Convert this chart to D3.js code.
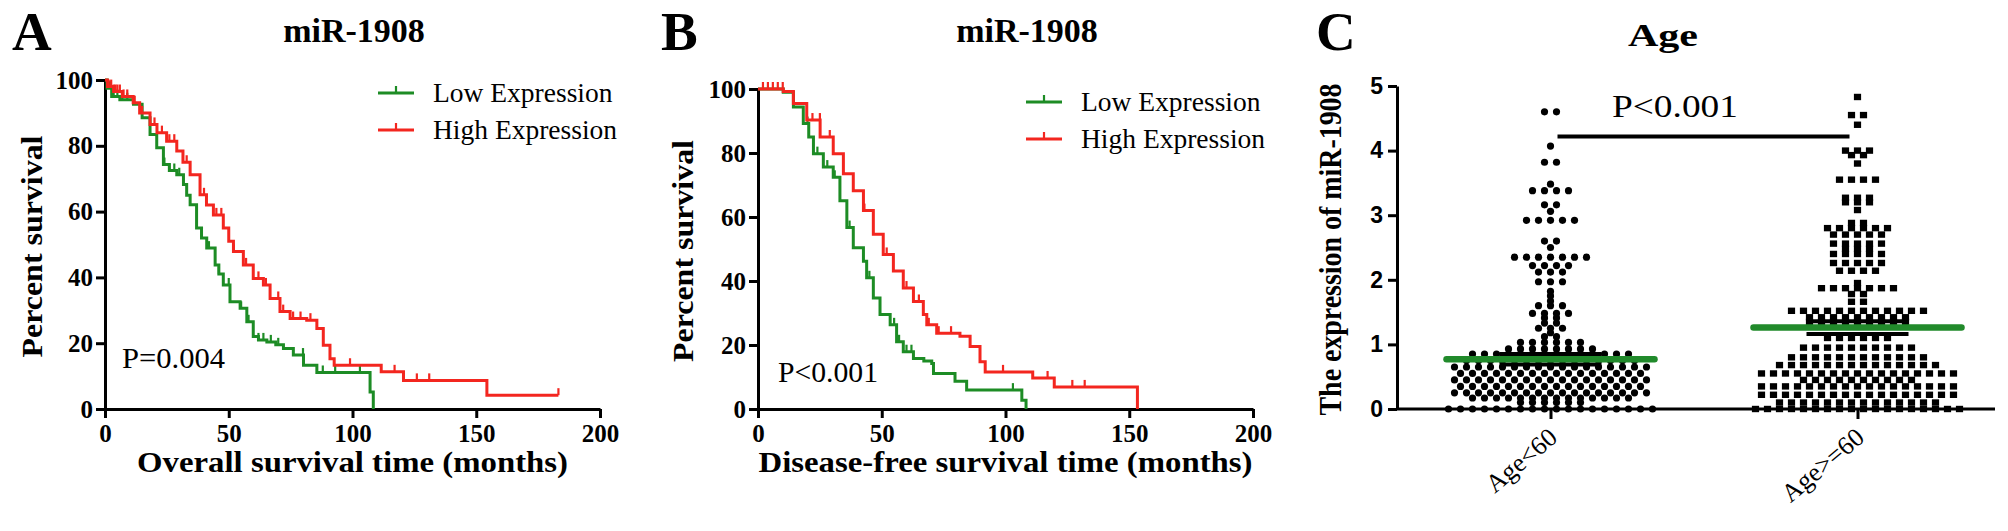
<!DOCTYPE html>
<html>
<head>
<meta charset="utf-8">
<script src="https://cdn.jsdelivr.net/npm/d3@7"></script>
<style>
  body { margin: 0; background: #fff; }
  svg { display: block; }
</style>
</head>
<body>
<div id="chart"></div>
<script>
const width = 2008;
const height = 531;

const serif = "'Liberation Serif', 'Times New Roman', Times, serif";
const sans = "'Liberation Sans', Arial, sans-serif";
const green = "#1d8c25";
const red = "#f3261f";

// ---- data ----
const survivalTicks = [0, 50, 100, 150, 200];
const percentTicks = [0, 20, 40, 60, 80, 100];
const expressionTicks = [0, 1, 2, 3, 4, 5];
const seriesNames = ["Low Expression", "High Expression"];
const ageGroups = ["Age<60", "Age>=60"];

// overall survival, [months, percent]
const osLow = [[0, 100], [0.8, 97.5], [2.7, 95], [6, 94], [11.5, 92.6], [15, 88.5], [18.2, 83.4], [20.9, 79.4],
  [23.6, 74.3], [26, 72.5], [29, 71.2], [31.7, 68.2], [33, 65], [34.4, 62.1], [37, 55], [39, 52], [41.1, 48.9],
  [44.5, 43.8], [46, 41], [47.8, 37.7], [50.5, 32.6], [54.6, 30.6], [57.3, 26.5], [59.9, 22], [62, 21],
  [65.4, 20.4], [69, 19.5], [72.1, 18.4], [76.1, 16.4], [80.2, 13.3], [85.6, 11.1], [107.1, 5.2], [108.4, 0]];
const osHigh = [[0, 100], [1, 98], [3.5, 96.5], [7, 95], [11.4, 93.1], [14, 90], [18.2, 86.5], [21, 84],
  [24.9, 81.4], [29, 78.4], [31.5, 75], [34.4, 71.2], [38.4, 65.1], [41, 62], [43.8, 59], [47.8, 55], [50, 51],
  [51.9, 47.9], [55.9, 43.8], [59.9, 39.7], [64, 37.7], [66.7, 33.6], [70.7, 29.6], [74.8, 27.5], [81.5, 27],
  [85.6, 24.5], [88.2, 19.4], [90.9, 15.3], [92.6, 13.3], [111.6, 11.3], [120.6, 8.7], [154.3, 4.2], [183.2, 4.2]];
const osLowCensor = [1, 2, 3.5, 5, 7, 9, 24, 26, 28, 30, 42, 46, 50, 55, 58, 62, 64, 67, 70, 80, 88, 93, 103];
const osHighCensor = [1.5, 2.5, 3.5, 4.2, 5, 6, 7.5, 9, 12, 15, 20, 23, 26, 28, 33, 40, 45, 47, 52, 57, 62, 65,
  70, 72, 76, 79, 83, 99, 117, 126, 131, 183.2];

// disease-free survival, [months, percent]
const dfsLow = [[0, 100], [10.2, 99], [14.3, 94.4], [18.3, 89.2], [20.5, 85], [22.4, 79.8], [26.4, 75.6],
  [30.4, 72.4], [33.1, 65.1], [35.9, 56.7], [38.5, 50.4], [42.6, 46.2], [43.9, 41], [46.6, 34.7], [49.3, 29.5],
  [53.4, 26.3], [56, 21], [58.7, 17.9], [62.8, 15.8], [67, 15], [70.2, 14.2], [70.9, 11.1], [79.6, 8.7],
  [84.3, 5.9], [106.6, 2.7], [108.3, 0]];
const dfsHigh = [[0, 100], [10.2, 99.2], [14.3, 95.5], [19.7, 90.3], [25.1, 85], [30.4, 79.8], [34.5, 73.5],
  [38.5, 68.2], [42.6, 62], [46.6, 54.6], [50.6, 48.3], [54.7, 43.1], [58.7, 37.8], [62.8, 33.6], [66.8, 29.5],
  [68.2, 26.3], [72.2, 23.7], [81.6, 22.7], [85.7, 19.5], [89.7, 14.8], [91.8, 11.6], [111, 9.7], [119.7, 6.9],
  [153.3, 0]];
const dfsLowCensor = [20, 24, 28, 31, 37, 45, 55, 57, 60, 62, 103];
const dfsHighCensor = [2, 4, 6, 8, 10, 22, 25, 29, 43, 52, 60, 65, 69, 73, 78, 99, 117, 127, 132];

// miR-1908 expression per patient
const ageUnder60 = [
  4.6, 4.6, 4.07, 3.82, 3.82, 3.48, 3.38, 3.38, 3.38, 3.38, 3.16, 3.16, 3.06,
  2.92, 2.92, 2.92, 2.92, 2.92, 2.6, 2.6, 2.5,
  2.35, 2.35, 2.35, 2.35, 2.35, 2.35, 2.35, 2.22, 2.22, 2.22, 2.22, 2.12, 2.12, 2.12,
  1.97, 1.97, 1.97, 1.82, 1.75, 1.67, 1.6, 1.6, 1.6, 1.48, 1.48, 1.48, 1.48, 1.41, 1.41,
  1.33, 1.33, 1.25, 1.25, 1.25, 1.18, 1.12, 1.12, 1.03, 1.03, 1.03, 1.03, 1.03, 1.03,
  0.93, 0.93, 0.93, 0.93, 0.93, 0.93, 0.93, 0.93,
  0.85, 0.85, 0.85, 0.85, 0.85, 0.85, 0.85, 0.85, 0.85, 0.85, 0.85, 0.85, 0.85, 0.85,
  0.75, 0.75, 0.75, 0.75, 0.75, 0.75, 0.75, 0.75, 0.75, 0.75, 0.75, 0.75, 0.75, 0.75, 0.75,
  0.65, 0.65, 0.65, 0.65, 0.65, 0.65, 0.65, 0.65, 0.65, 0.65, 0.65, 0.65, 0.65, 0.65, 0.65, 0.65, 0.65,
  0.55, 0.55, 0.55, 0.55, 0.55, 0.55, 0.55, 0.55, 0.55, 0.55, 0.55, 0.55, 0.55, 0.55, 0.55, 0.55,
  0.45, 0.45, 0.45, 0.45, 0.45, 0.45, 0.45, 0.45, 0.45, 0.45, 0.45, 0.45, 0.45, 0.45, 0.45, 0.45, 0.45,
  0.35, 0.35, 0.35, 0.35, 0.35, 0.35, 0.35, 0.35, 0.35, 0.35, 0.35, 0.35, 0.35, 0.35, 0.35, 0.35,
  0.25, 0.25, 0.25, 0.25, 0.25, 0.25, 0.25, 0.25, 0.25, 0.25, 0.25, 0.25, 0.25, 0.25, 0.25, 0.25, 0.25,
  0.17, 0.17, 0.17, 0.17, 0.17, 0.17, 0.17, 0.17, 0.17, 0.17, 0.17, 0.17, 0.17, 0.17,
  0.1, 0.1, 0.1, 0.1, 0.1, 0.1,
  0, 0, 0, 0, 0, 0, 0, 0, 0, 0, 0, 0, 0, 0, 0, 0, 0, 0
];
const ageOver60 = [
  4.83, 4.55, 4.55, 4.4, 4.0, 4.0, 4.0, 3.93, 3.93, 3.8, 3.55, 3.55, 3.55, 3.55,
  3.27, 3.27, 3.27, 3.2, 3.2, 3.2, 3.08, 2.88, 2.88, 2.8, 2.8, 2.8, 2.8, 2.8, 2.8,
  2.7, 2.7, 2.7, 2.7, 2.7, 2.56, 2.56, 2.56, 2.56, 2.56, 2.48, 2.48, 2.48,
  2.4, 2.4, 2.4, 2.4, 2.4, 2.26, 2.26, 2.26, 2.26, 2.26, 2.14, 2.14, 2.14, 2.14, 1.95,
  1.87, 1.87, 1.87, 1.87, 1.87, 1.87, 1.87, 1.78, 1.78, 1.66, 1.66,
  1.52, 1.52, 1.52, 1.52, 1.52, 1.52, 1.52, 1.52, 1.52, 1.52, 1.52, 1.52,
  1.42, 1.42, 1.42, 1.42, 1.42, 1.42, 1.42, 1.42, 1.42,
  1.35, 1.35, 1.35, 1.35, 1.35, 1.35, 1.35, 1.35, 1.35,
  1.1, 1.1, 1.1, 1.1, 1.1, 1.1,
  0.95, 0.95, 0.95, 0.95, 0.95, 0.95, 0.95, 0.95, 0.95, 0.95,
  0.8, 0.8, 0.8, 0.8, 0.8, 0.8, 0.8, 0.8, 0.8, 0.8, 0.8, 0.8,
  0.68, 0.68, 0.68, 0.68, 0.68, 0.68, 0.68, 0.68, 0.68, 0.68, 0.68, 0.68, 0.68, 0.68,
  0.55, 0.55, 0.55, 0.55, 0.55, 0.55, 0.55, 0.55, 0.55, 0.55, 0.55, 0.55, 0.55, 0.55, 0.55, 0.55, 0.55,
  0.45, 0.45, 0.45, 0.45, 0.45, 0.45, 0.45, 0.45, 0.45, 0.45,
  0.35, 0.35, 0.35, 0.35, 0.35, 0.35, 0.35, 0.35, 0.35, 0.35, 0.35, 0.35, 0.35, 0.35, 0.35, 0.35, 0.35,
  0.22, 0.22, 0.22, 0.22, 0.22, 0.22, 0.22, 0.22, 0.22, 0.22, 0.22, 0.22, 0.22, 0.22, 0.22, 0.22, 0.22,
  0.1, 0.1, 0.1, 0.1, 0.1, 0.1, 0.1, 0.1, 0.1, 0.1, 0.1, 0.1, 0.1, 0.1,
  0, 0, 0, 0, 0, 0, 0, 0, 0, 0, 0, 0, 0, 0, 0, 0, 0, 0
];
const groupMeans = [0.77, 1.26];
const groupSem = [0.08, 0.1];
const sigLevel = 4.22;
// -------------------------------------

const svg = d3.select("#chart")
  .append("svg")
  .attr("width", width)
  .attr("height", height)
  .attr("viewBox", [0, 0, width, height]);

const styleAxis = (g, font, size) => {
  g.attr("font-family", null).attr("font-size", null);
  g.select(".domain").attr("stroke-width", 3).attr("stroke", "#000");
  g.selectAll(".tick line").attr("stroke-width", 3).attr("stroke", "#000");
  g.selectAll(".tick text")
    .attr("fill", "#000")
    .style("font-family", font)
    .style("font-size", size + "px")
    .style("font-weight", "bold");
};

const addText = (txt, x, y, opts = {}) => {
  const t = svg.append("text")
    .attr("x", x)
    .attr("y", y)
    .attr("text-anchor", opts.anchor || "start")
    .style("font-family", opts.font || serif)
    .style("font-size", (opts.size || 25) + "px")
    .style("font-weight", opts.bold ? "bold" : "normal")
    .attr("fill", "#000")
    .text(txt);
  if (opts.len) t.attr("textLength", opts.len).attr("lengthAdjust", "spacingAndGlyphs");
  if (opts.rotate) t.attr("transform", `rotate(${opts.rotate},${x},${y})`);
  return t;
};

// value of a step curve at time t
const stepAt = (data, t) => data[Math.max(0, d3.bisector(d => d[0]).right(data, t) - 1)][1];

const drawSurvival = (cfg) => {
  const x = d3.scaleLinear([0, 200], [cfg.left, cfg.right]);
  const y = d3.scaleLinear([0, 100], [cfg.bottom, cfg.top]);

  const line = d3.line()
    .x(d => x(d[0]))
    .y(d => y(d[1]))
    .curve(d3.curveStepAfter);

  svg.append("g")
    .attr("transform", `translate(0,${cfg.bottom})`)
    .call(d3.axisBottom(x).tickValues(survivalTicks).tickSize(9).tickSizeOuter(0).tickPadding(6))
    .call(g => styleAxis(g, serif, 25));

  svg.append("g")
    .attr("transform", `translate(${cfg.left},0)`)
    .call(d3.axisLeft(y).tickValues(percentTicks).tickSize(9).tickSizeOuter(0).tickPadding(3))
    .call(g => styleAxis(g, serif, 25));

  cfg.series.forEach(s => {
    svg.append("path")
      .datum(s.data)
      .attr("fill", "none")
      .attr("stroke", s.color)
      .attr("stroke-width", 3)
      .attr("d", line);

    svg.append("g")
      .selectAll("line")
      .data(s.censor)
      .join("line")
      .attr("x1", d => x(d))
      .attr("x2", d => x(d))
      .attr("y1", d => y(stepAt(s.data, d)))
      .attr("y2", d => y(stepAt(s.data, d)) - 7)
      .attr("stroke", s.color)
      .attr("stroke-width", 2.2);
  });

  // legend
  const legend = svg.append("g")
    .attr("transform", `translate(${cfg.legendX},${cfg.legendY})`);
  const item = legend.selectAll("g")
    .data(cfg.series)
    .join("g")
    .attr("transform", (d, i) => `translate(0,${i * 37})`);
  item.append("line")
    .attr("x1", 0).attr("x2", 36)
    .attr("stroke", d => d.color)
    .attr("stroke-width", 2.8);
  item.append("line")
    .attr("x1", 18).attr("x2", 18).attr("y1", 0).attr("y2", -7)
    .attr("stroke", d => d.color)
    .attr("stroke-width", 2.2);
  item.append("text")
    .attr("x", 55)
    .attr("y", 9)
    .style("font-family", serif)
    .style("font-size", "27.5px")
    .text(d => d.name);

  addText(cfg.letter, cfg.letterX, 50, { size: 55, bold: true });
  addText("miR-1908", cfg.titleX, 42, { size: 34, bold: true, anchor: "middle" });
  addText("Percent survival", cfg.yLabelX, (cfg.top + cfg.bottom) / 2 + 2,
    { size: 29, bold: true, anchor: "middle", rotate: -90, len: 222 });
  addText(cfg.xLabel, (cfg.left + cfg.right) / 2, 472,
    { size: 29, bold: true, anchor: "middle", len: cfg.xLabelLen });
  addText(cfg.pText, cfg.pX, cfg.pY, { size: 30, len: cfg.pLen });
};

drawSurvival({
  left: 105, right: 600, top: 80, bottom: 409,
  series: [
    { name: seriesNames[0], color: green, data: osLow, censor: osLowCensor },
    { name: seriesNames[1], color: red, data: osHigh, censor: osHighCensor }
  ],
  legendX: 378, legendY: 93,
  letter: "A", letterX: 12, titleX: 354, yLabelX: 42,
  xLabel: "Overall survival time (months)", xLabelLen: 431,
  pText: "P=0.004", pX: 122, pY: 368, pLen: 103
});

drawSurvival({
  left: 758, right: 1253, top: 89, bottom: 409,
  series: [
    { name: seriesNames[0], color: green, data: dfsLow, censor: dfsLowCensor },
    { name: seriesNames[1], color: red, data: dfsHigh, censor: dfsHighCensor }
  ],
  legendX: 1026, legendY: 102,
  letter: "B", letterX: 661, titleX: 1027, yLabelX: 693,
  xLabel: "Disease-free survival time (months)", xLabelLen: 494,
  pText: "P<0.001", pX: 778, pY: 382, pLen: 100
});

// ---- panel C: scatter with mean and SEM ----
const cLeft = 1397;
const cRight = 1995;
const xC = d3.scalePoint(ageGroups, [cLeft, 2011]).padding(0.5);
const yC = d3.scaleLinear([0, 5], [409, 86]);

svg.append("g")
  .attr("transform", `translate(0,${yC(0)})`)
  .call(d3.axisBottom(xC).tickSize(10).tickSizeOuter(0))
  .call(g => styleAxis(g, serif, 26))
  .call(g => g.select(".domain").attr("d", `M${cLeft},0H${cRight}`))
  .call(g => g.selectAll(".tick text")
    .attr("x", 0).attr("y", 0).attr("dy", 0)
    .attr("transform", "translate(8,31) rotate(-40)")
    .attr("text-anchor", "end")
    .style("font-weight", "normal"));

svg.append("g")
  .attr("transform", `translate(${cLeft},0)`)
  .call(d3.axisLeft(yC).tickValues(expressionTicks).tickFormat(d3.format("d"))
    .tickSize(9).tickSizeOuter(0).tickPadding(5))
  .call(g => styleAxis(g, sans, 23));

// points with the same value sit side by side, centred on the column
const spread = 12;
const layout = (values, cat) => {
  const out = [];
  d3.group(values, v => v).forEach((row, v) => {
    row.forEach((_, i) => out.push({ x: xC(cat) + (i - (row.length - 1) / 2) * spread, y: yC(v) }));
  });
  return out;
};

svg.append("g")
  .selectAll("circle")
  .data(layout(ageUnder60, ageGroups[0]))
  .join("circle")
  .attr("cx", d => d.x)
  .attr("cy", d => d.y)
  .attr("r", 3.6)
  .attr("fill", "#000");

svg.append("g")
  .selectAll("rect")
  .data(layout(ageOver60, ageGroups[1]))
  .join("rect")
  .attr("x", d => d.x - 3.6)
  .attr("y", d => d.y - 3.2)
  .attr("width", 7.2)
  .attr("height", 6.4)
  .attr("fill", "#000");

ageGroups.forEach((cat, i) => {
  [groupMeans[i] - groupSem[i], groupMeans[i] + groupSem[i]].forEach(v => {
    svg.append("line")
      .attr("x1", xC(cat) - 51).attr("x2", xC(cat) + 51)
      .attr("y1", yC(v)).attr("y2", yC(v))
      .attr("stroke", "#000")
      .attr("stroke-width", 4);
  });
  svg.append("line")
    .attr("x1", xC(cat) - 104).attr("x2", xC(cat) + 104)
    .attr("y1", yC(groupMeans[i])).attr("y2", yC(groupMeans[i]))
    .attr("stroke", "#218a2b")
    .attr("stroke-width", 6.5)
    .attr("stroke-linecap", "round");
});

svg.append("line")
  .attr("x1", xC(ageGroups[0]) + 7).attr("x2", xC(ageGroups[1]) - 8)
  .attr("y1", yC(sigLevel)).attr("y2", yC(sigLevel))
  .attr("stroke", "#000")
  .attr("stroke-width", 4);

addText("P<0.001", 1675, 117, { size: 31, anchor: "middle", len: 126 });
addText("C", 1316, 50, { size: 55, bold: true });
addText("Age", 1663, 46, { size: 31, bold: true, anchor: "middle", len: 70 });
addText("The expression of miR-1908", 1341, (yC(0) + yC(5)) / 2 + 2,
  { size: 31, bold: true, anchor: "middle", rotate: -90, len: 332 });
</script>
</body>
</html>
